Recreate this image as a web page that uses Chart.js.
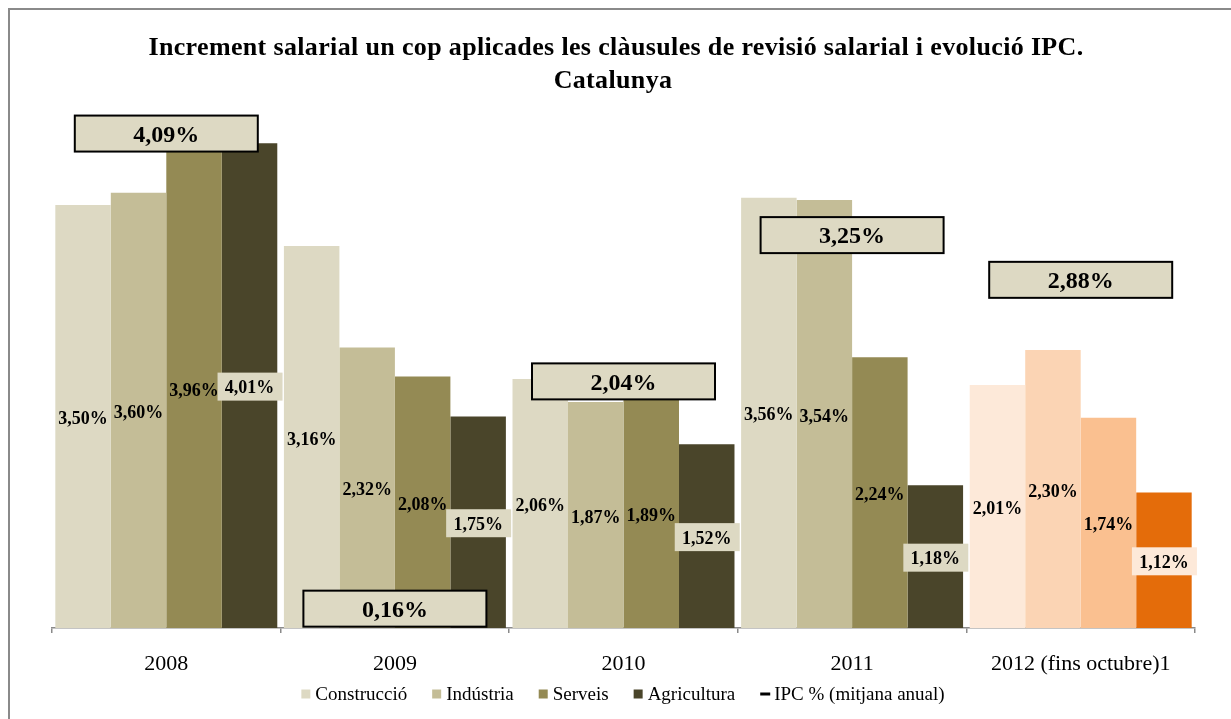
<!DOCTYPE html>
<html>
<head>
<meta charset="utf-8">
<script src="https://cdn.jsdelivr.net/npm/chart.js@4/dist/chart.umd.min.js"></script>
<style>
  html, body { margin: 0; padding: 0; background: #ffffff; }
  #wrap { width: 1231px; height: 719px; position: relative; }
</style>
</head>
<body>
<div id="wrap"><canvas id="chart" width="1231" height="719"></canvas></div>
<script>
// Categories and series
const years = ['2008', '2009', '2010', '2011', '2012 (fins octubre)1'];
const construccio = [3.50, 3.16, 2.06, 3.56, 2.01];
const industria   = [3.60, 2.32, 1.87, 3.54, 2.30];
const serveis     = [3.96, 2.08, 1.89, 2.24, 1.74];
const agricultura = [4.01, 1.75, 1.52, 1.18, 1.12];
const ipc         = [4.09, 0.16, 2.04, 3.25, 2.88];

const titleLines = [
  'Increment salarial un cop aplicades les clàusules de revisió salarial i evolució IPC.',
  'Catalunya'
];
const seriesNames = ['Construcció', 'Indústria', 'Serveis', 'Agricultura', 'IPC % (mitjana anual)'];

// Colours: olive family for 2008-2011, orange family for the 2012 (partial year) group
const olive  = ['#DDD9C3', '#C4BD97', '#948A54', '#4A452A'];
const orange = ['#FDE9D9', '#FBD4B4', '#FAC090', '#E46C0A'];
const colorsFor = (i) => years.map((_, k) => k === years.length - 1 ? orange[i] : olive[i]);

const SERIF = '"Liberation Serif", "Times New Roman", serif';
const fmt = (v) => v.toFixed(2).replace('.', ',') + '%';

const decorations = {
  id: 'decorations',
  beforeDraw(chart) {
    const ctx = chart.ctx;
    ctx.save();
    ctx.fillStyle = '#ffffff';
    ctx.fillRect(0, 0, chart.width, chart.height);
    // outer frame
    ctx.strokeStyle = '#8a8a8a';
    ctx.lineWidth = 2;
    ctx.strokeRect(9, 9, chart.width + 20, chart.height + 20);
    // title
    ctx.fillStyle = '#000';
    ctx.font = 'bold 26px ' + SERIF;
    ctx.textAlign = 'center';
    ctx.textBaseline = 'middle';
    ctx.letterSpacing = '0.35px';
    ctx.fillText(titleLines[0], 616, 48);
    ctx.fillText(titleLines[1], 613, 81);
    ctx.letterSpacing = '0px';
    ctx.restore();
  },
  afterDatasetsDraw(chart) {
    const ctx = chart.ctx;
    ctx.save();
    ctx.textAlign = 'center';
    ctx.textBaseline = 'middle';
    ctx.font = 'bold 18px ' + SERIF;
    ctx.fillStyle = '#000';
    // value labels centred in the bars
    for (let d = 0; d < 3; d++) {
      const meta = chart.getDatasetMeta(d);
      meta.data.forEach((bar, i) => {
        const v = chart.data.datasets[d].data[i];
        const y = (bar.y + bar.base) / 2;
        ctx.fillText(fmt(v), bar.x, y + 3);
      });
    }
    // Agricultura labels sit in a filled box
    const ag = chart.getDatasetMeta(3);
    ag.data.forEach((bar, i) => {
      const v = chart.data.datasets[3].data[i];
      const y = (bar.y + bar.base) / 2;
      ctx.fillStyle = i === years.length - 1 ? orange[0] : olive[0];
      ctx.fillRect(bar.x - 32, y - 13, 65, 28);
      ctx.fillStyle = '#000';
      ctx.fillText(fmt(v), bar.x, y + 3);
    });
    // IPC values as framed boxes centred on each year
    const ip = chart.getDatasetMeta(4);
    ctx.font = 'bold 24px ' + SERIF;
    ip.data.forEach((pt, i) => {
      const v = chart.data.datasets[4].data[i];
      const w = 183, h = 36;
      ctx.fillStyle = '#DDD9C3';
      ctx.fillRect(pt.x - w / 2, pt.y - h / 2, w, h);
      ctx.strokeStyle = '#000';
      ctx.lineWidth = 2;
      ctx.strokeRect(pt.x - w / 2, pt.y - h / 2, w, h);
      ctx.fillStyle = '#000';
      ctx.fillText(fmt(v), pt.x, pt.y + 2);
    });
    ctx.restore();
  },
  afterDraw(chart) {
    // legend
    const ctx = chart.ctx;
    ctx.save();
    ctx.font = '19px ' + SERIF;
    ctx.textBaseline = 'middle';
    ctx.textAlign = 'left';
    const y = 694, box = 9, gapText = 5, gapItem = 25;
    const widths = seriesNames.map(n => box + gapText + ctx.measureText(n).width);
    const total = widths.reduce((a, b) => a + b, 0) + gapItem * (seriesNames.length - 1);
    let x = 623 - total / 2;
    seriesNames.forEach((n, i) => {
      if (i < 4) {
        ctx.fillStyle = olive[i];
        ctx.fillRect(x, y - box / 2, box, box);
      } else {
        ctx.fillStyle = '#000';
        ctx.fillRect(x, y - 1.5, box + 1, 3);
      }
      ctx.fillStyle = '#000';
      ctx.fillText(n, x + box + gapText, y + 1);
      x += widths[i] + gapItem;
    });
    ctx.restore();
  }
};

new Chart(document.getElementById('chart'), {
  type: 'bar',
  data: {
    labels: years,
    datasets: [
      { label: seriesNames[0], data: construccio, backgroundColor: colorsFor(0) },
      { label: seriesNames[1], data: industria,   backgroundColor: colorsFor(1) },
      { label: seriesNames[2], data: serveis,     backgroundColor: colorsFor(2) },
      { label: seriesNames[3], data: agricultura, backgroundColor: colorsFor(3) },
      { label: seriesNames[4], data: ipc, type: 'line', showLine: false,
        pointRadius: 0, borderColor: '#000', backgroundColor: '#000' }
    ]
  },
  options: {
    responsive: false,
    animation: false,
    devicePixelRatio: 1,
    events: [],
    layout: { padding: { left: 52, right: 36, top: 84, bottom: 41 } },
    datasets: { bar: { categoryPercentage: 0.971, barPercentage: 1.0, borderWidth: 0 } },
    plugins: {
      legend: { display: false },
      title: { display: false },
      tooltip: { enabled: false }
    },
    scales: {
      x: {
        offset: true,
        afterFit(scale) { scale.height = 50; },
        grid: { display: true, drawOnChartArea: false, drawTicks: true, tickLength: 5,
                color: '#8a8a8a', lineWidth: 1.5, offset: true },
        border: { display: true, color: '#8a8a8a', width: 1.5 },
        ticks: { color: '#000', font: { family: SERIF, size: 22 }, padding: 18, maxRotation: 0 }
      },
      y: {
        display: false,
        min: 0,
        max: 4.5
      }
    }
  },
  plugins: [decorations]
});
</script>
</body>
</html>
